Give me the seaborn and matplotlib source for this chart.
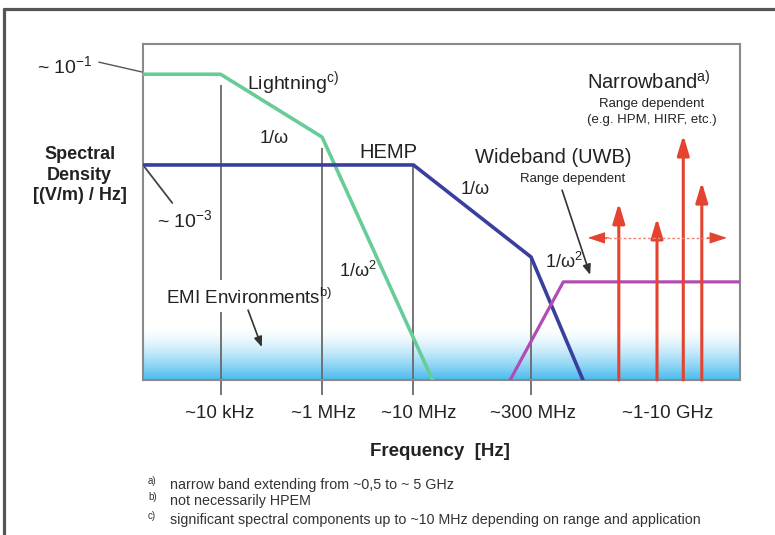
import numpy as np
import matplotlib
matplotlib.use("Agg")
import matplotlib.pyplot as plt
import seaborn as sns
from matplotlib.colors import LinearSegmentedColormap
from matplotlib.lines import Line2D

# schematic coordinates: x = position along frequency axis (0-100), y = spectral density level (0-100)
lightning_x = [0, 13, 30, 48.5]
lightning_y = [91, 91, 72.3, 0]
hemp_x = [0, 45.3, 65, 73.7]
hemp_y = [64, 64, 36.6, 0]
uwb_x = [61.5, 70.4, 100]
uwb_y = [0, 29.2, 29.2]
narrow_x = [79.7, 86.1, 90.5, 93.6]
narrow_top = [52.7, 48.2, 72.9, 58.9]
grid_x = [13, 13, 30, 45.3, 65]
grid_top = [87.8, 20.2, 69.0, 64.0, 36.6]
grid_bottom = [29.8, -4.5, -4.5, -4.5, -4.5]
tick_pos = [12.9, 30.2, 46.2, 65.3, 87.9]
tick_labels = ["~10 kHz", "~1 MHz", "~10 MHz", "~300 MHz", "~1-10 GHz"]
footnotes = [("a)", "narrow band extending from ~0,5 to ~ 5 GHz"),
             ("b)", "not necessarily HPEM"),
             ("c)", "significant spectral components up to ~10 MHz depending on range and application")]

sns.set_theme(style="white")
plt.rcParams["font.family"] = ["Liberation Sans", "DejaVu Sans"]
plt.rcParams["mathtext.fontset"] = "custom"
plt.rcParams["mathtext.rm"] = "Liberation Sans"
plt.rcParams["mathtext.it"] = "Liberation Sans"
plt.rcParams["mathtext.bf"] = "Liberation Sans:bold"
plt.rcParams["mathtext.default"] = "regular"

fig = plt.figure(figsize=(7.75, 5.35), dpi=100)
ax = fig.add_axes([143 / 775, 1 - 380 / 535, 597 / 775, 336 / 535])
ax.set_xlim(0, 100)
ax.set_ylim(0, 100)

# outer frame
fig.add_artist(Line2D([0.0052, 0.0052], [0, 0.983], color="#555555", lw=2.3))
fig.add_artist(Line2D([0.0052, 1], [0.983, 0.983], color="#555555", lw=2.3))

# EMI environment gradient at the bottom
grad = np.linspace(1, 0, 200) ** 1.5
cmap = LinearSegmentedColormap.from_list("emi", ["white", "#48bbee"])
ax.imshow(grad[:, None], extent=[0, 100, 0, 15.5], aspect="auto", cmap=cmap,
          origin="lower", vmin=0, vmax=1, zorder=0)

ax.vlines(grid_x, grid_bottom, grid_top, colors="#6a6a6a", lw=1.3, clip_on=False, zorder=1)

sns.lineplot(x=lightning_x, y=lightning_y, sort=False, estimator=None, ax=ax,
             color="#67cc98", lw=2.6, zorder=3)
sns.lineplot(x=hemp_x, y=hemp_y, sort=False, estimator=None, ax=ax,
             color="#3a3f9e", lw=2.6, zorder=3)
sns.lineplot(x=uwb_x, y=uwb_y, sort=False, estimator=None, ax=ax,
             color="#b24cb4", lw=2.3, zorder=3)

red = "#e3432f"
for x, top in zip(narrow_x, narrow_top):
    ax.annotate("", xy=(x, top), xytext=(x, 0),
                arrowprops=dict(arrowstyle="-|>,head_length=1.0,head_width=0.3",
                                color=red, lw=2.2, shrinkA=0, shrinkB=0), zorder=4)
ax.plot([75.5, 97], [42.3, 42.3], color="#ee8878", lw=1.0, ls=(0, (2, 1.5)), zorder=4)
ax.annotate("", xy=(74.5, 42.3), xytext=(78, 42.3),
            arrowprops=dict(arrowstyle="-|>,head_length=0.9,head_width=0.3",
                            color=red, lw=0.8, shrinkA=0, shrinkB=0), zorder=4)
ax.annotate("", xy=(97.8, 42.3), xytext=(94.5, 42.3),
            arrowprops=dict(arrowstyle="-|>,head_length=0.9,head_width=0.3",
                            color=red, lw=0.8, shrinkA=0, shrinkB=0), zorder=4)

for s in ax.spines.values():
    s.set_color("#8a8a8a")
    s.set_linewidth(1.5)
ax.set_yticks([])
ax.set_xticks(tick_pos)
ax.set_xticklabels(tick_labels, fontsize=13.5, color="#222222")
ax.tick_params(axis="x", length=0, pad=18)

txt = "#222222"
ax.text(49.7, -21.4, "Frequency  [Hz]", fontsize=13.5, fontweight="bold", color=txt,
        ha="center", va="center")
ax.text(-10.6, 61, "Spectral\nDensity\n[(V/m) / Hz]", fontsize=13, fontweight="bold",
        color=txt, ha="center", va="center", linespacing=1.25)

# level markers
ax.text(-17.8, 93.5, "~ 10$^{-1}$", fontsize=14, color=txt, ha="left", va="center")
ax.plot([-7.4, 0], [94.6, 91.6], color="#555555", lw=1.0, clip_on=False)
ax.text(2.3, 47.6, "~ 10$^{-3}$", fontsize=14, color=txt, ha="left", va="center")
ax.plot([0, 4.9], [64, 52.7], color="#444444", lw=1.3, clip_on=False)

ax.text(17.4, 88.4, "Lightning$^{c)}$", fontsize=14, color=txt, ha="left", va="center")
ax.text(21.9, 72.0, "1/ω", fontsize=13, color=txt, ha="center", va="center")
ax.text(36.0, 32.4, "1/ω$^{2}$", fontsize=13, color=txt, ha="center", va="center")
ax.text(36.3, 67.6, "HEMP", fontsize=14.5, color=txt, ha="left", va="center")
ax.text(55.6, 56.8, "1/ω", fontsize=13, color=txt, ha="center", va="center")
ax.text(68.7, 66.1, "Wideband (UWB)", fontsize=14.5, color=txt, ha="center", va="center")
ax.text(71.9, 59.8, "Range dependent", fontsize=9.5, color=txt, ha="center", va="center")
ax.text(70.5, 35.1, "1/ω$^{2}$", fontsize=13, color=txt, ha="center", va="center")
ax.annotate("", xy=(74.9, 31.3), xytext=(70.2, 56.5),
            arrowprops=dict(arrowstyle="-|>,head_length=0.5,head_width=0.2",
                            color="#333333", lw=1.2, shrinkA=0, shrinkB=0))
ax.text(74.4, 88.7, "Narrowband$^{a)}$", fontsize=14.5, color=txt, ha="left", va="center")
ax.text(85.2, 82.1, "Range dependent", fontsize=9.5, color=txt, ha="center", va="center")
ax.text(85.2, 77.4, "(e.g. HPM, HIRF, etc.)", fontsize=9.5, color=txt, ha="center", va="center")

ax.text(3.9, 24.4, "EMI Environments$^{b)}$", fontsize=13.5, color=txt, ha="left", va="center")
ax.annotate("", xy=(19.9, 9.8), xytext=(17.6, 20.8),
            arrowprops=dict(arrowstyle="-|>,head_length=0.5,head_width=0.2",
                            color="#333333", lw=1.2, shrinkA=0, shrinkB=0))

# footnotes
for i, (mark, note) in enumerate(footnotes):
    y = 1 - [485, 501, 520][i] / 535
    fig.text(148 / 775, y + 0.008, mark, fontsize=7, color="#333333", va="center")
    fig.text(170 / 775, y, note, fontsize=10.3, color="#333333", va="center")

fig.savefig("out.png", dpi=100)
